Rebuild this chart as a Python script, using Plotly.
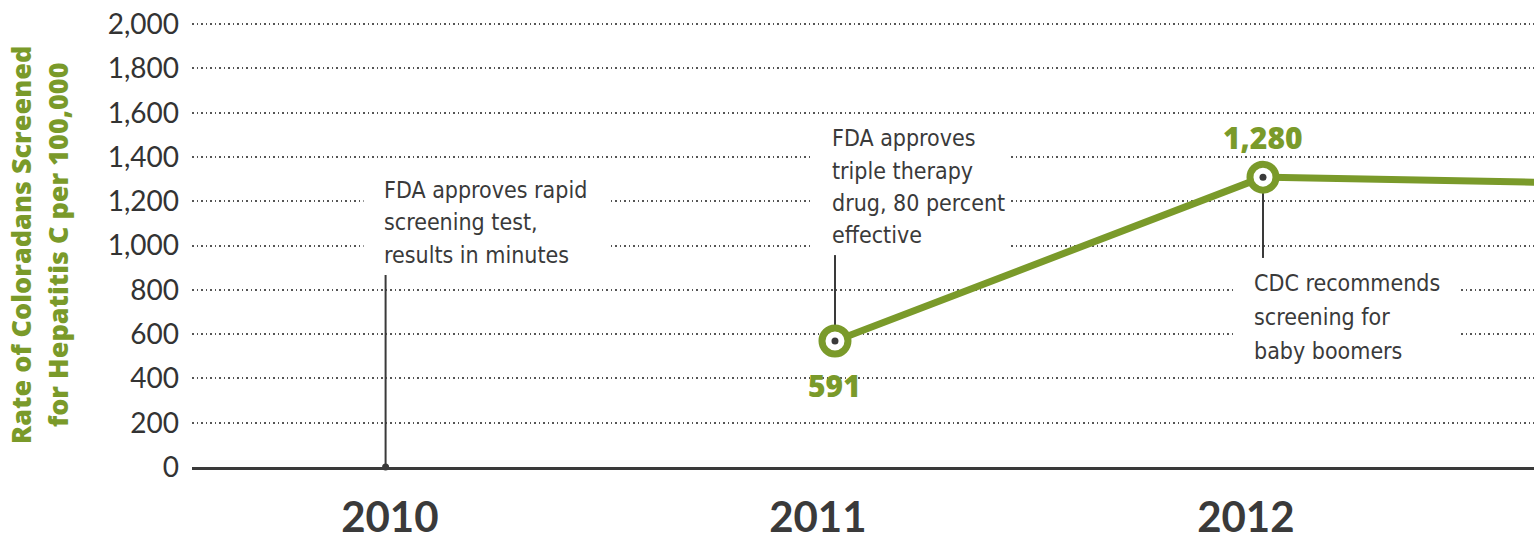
import plotly.graph_objects as go

# ---- data ----
years = [2011, 2012, 2013]
rate = [569, 1309, 1273]            # plotted positions
point_years = [2011, 2012]
point_rate = [569, 1309]
point_labels = ["591", "1,280"]
label_shift = [-44, 40]             # px: below / above the marker

tick_years = [2010, 2011, 2012]
tick_text = ["2010", "2011", "2012"]

event_years = [2010, 2011, 2012]
event_lines = [
    ["FDA approves rapid", "screening test,", "results in minutes"],
    ["FDA approves", "triple therapy", "drug, 80 percent", "effective"],
    ["CDC recommends", "screening for", "baby boomers"],
]
event_base = [0, 569, 1309]         # where each event stem starts
event_tip = [867, 957, 944]         # where each event stem ends

y_ticks = list(range(0, 2001, 200))
y_ticklabels = [f"{v:,}" for v in y_ticks]

# ---- style ----
GREEN = "#7a9a2a"
DARK = "#3a3a3a"
W, H = 1534, 540
ML, MR, MT, MB = 192, 0, 23, 73
label_offset = -0.04
event_x = [event_years[0] - 0.05, 2011, 2012]
txt_xshift = [-4, -5, -11]
txt_y = [1106, 1266, 677]
line_gap = [32.5, 32.3, 34]
box_px = [(-22, 224), (-23, 175), (-30, 197)]
box_y = [(880, 1363), (971, 1558), (438, 925)]
COND = "DejaVu Sans Condensed, Roboto Condensed, Liberation Sans Narrow, sans-serif"

fig = go.Figure()

fig.add_trace(go.Scatter(
    x=years, y=rate, mode="lines",
    line=dict(color=GREEN, width=7), hoverinfo="skip", showlegend=False,
))
fig.add_trace(go.Scatter(
    x=point_years, y=point_rate, mode="markers",
    marker=dict(size=26, color="white", line=dict(color=GREEN, width=7)),
    showlegend=False,
))
fig.add_trace(go.Scatter(
    x=point_years + [event_x[0]], y=point_rate + [0], mode="markers",
    marker=dict(size=7, color=DARK), showlegend=False, cliponaxis=False,
))

shapes = []
for i in range(len(event_years)):
    shapes.append(dict(
        type="rect", xref="x", yref="y", xsizemode="pixel", xanchor=event_x[i],
        x0=box_px[i][0], x1=box_px[i][1], y0=box_y[i][0], y1=box_y[i][1],
        fillcolor="white", line=dict(width=0), layer="between",
    ))
    shapes.append(dict(
        type="line", xref="x", yref="y", x0=event_x[i], x1=event_x[i],
        y0=event_base[i], y1=event_tip[i], line=dict(color=DARK, width=2),
        layer="between",
    ))

annotations = []
for i in range(len(event_years)):
    n = len(event_lines[i])
    for k, line in enumerate(event_lines[i]):
        annotations.append(dict(
            x=event_x[i], y=txt_y[i], xref="x", yref="y", text=line,
            showarrow=False, xanchor="left", yanchor="middle", align="left",
            xshift=txt_xshift[i], yshift=-(k - (n - 1) / 2) * line_gap[i],
            font=dict(family=COND, size=23, color=DARK),
        ))
for i in range(len(point_years)):
    annotations.append(dict(
        x=point_years[i], y=point_rate[i], xref="x", yref="y",
        text=point_labels[i], showarrow=False, yshift=label_shift[i],
        font=dict(family="Open Sans", size=30, color=GREEN, weight=800),
    ))
annotations.append(dict(
    x=0, y=0.5, xref="paper", yref="paper", xanchor="center", yanchor="middle",
    xshift=-ML + 20, showarrow=False,
    text="Rate of Coloradans Screened", textangle=-90,
    font=dict(family="Open Sans", size=27, color=GREEN, weight=800),
))
annotations.append(dict(
    x=0, y=0.5, xref="paper", yref="paper", xanchor="center", yanchor="middle",
    xshift=-ML + 57, showarrow=False,
    text="for Hepatitis C per 100,000", textangle=-90,
    font=dict(family="Open Sans", size=27, color=GREEN, weight=800),
))

fig.update_layout(
    width=W, height=H,
    margin=dict(l=ML, r=MR, t=MT, b=MB, autoexpand=False),
    paper_bgcolor="white", plot_bgcolor="white",
    shapes=shapes, annotations=annotations,
    xaxis=dict(
        range=[2009.4977, 2012.6332], automargin=False,
        tickvals=[t + label_offset for t in tick_years], ticktext=tick_text,
        showgrid=False, zeroline=False, showline=True,
        linecolor=DARK, linewidth=2.5, ticks="",
        tickfont=dict(family="Lato", size=42, color=DARK, weight="bold"),
        ticklabelstandoff=12,
    ),
    yaxis=dict(
        range=[0, 2005], tickvals=y_ticks, ticktext=y_ticklabels, automargin=False,
        showgrid=True, gridcolor="#555555", gridwidth=1.5, griddash="1.5px,3px",
        zeroline=False, showline=False, ticks="",
        tickfont=dict(family="Lato", size=28, color="#333333"),
        ticklabelstandoff=12,
    ),
)

fig.write_html("out.html", config={"displayModeBar": False},
               post_script="document.body.style.margin='0px';")
